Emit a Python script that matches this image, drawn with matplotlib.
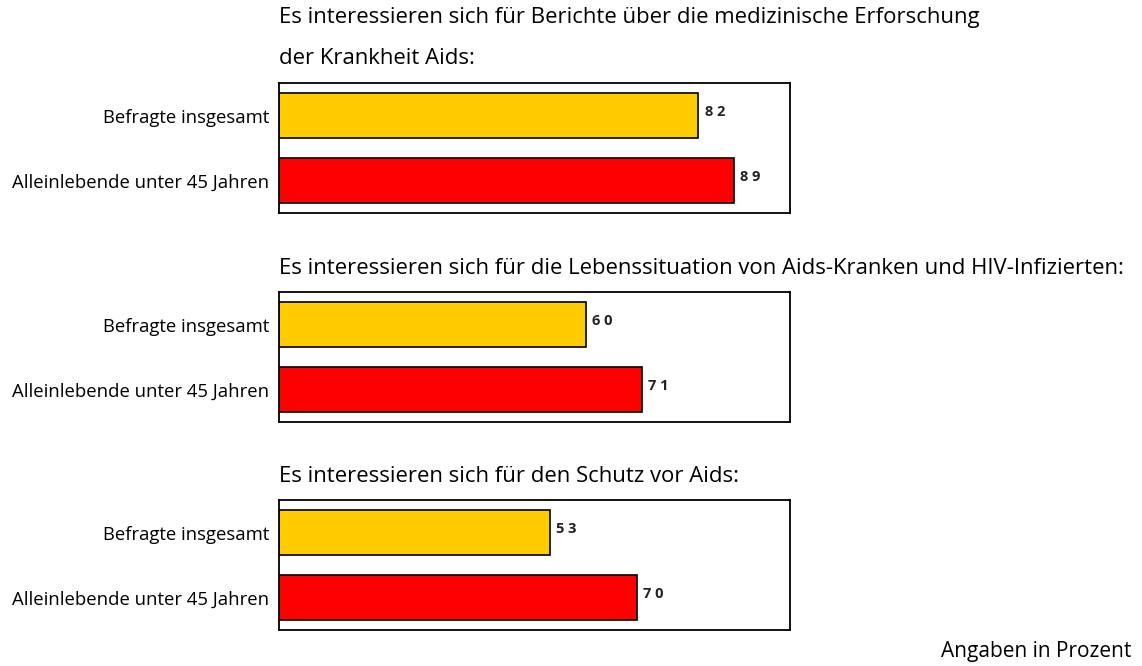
import matplotlib
matplotlib.use("Agg")
import matplotlib.pyplot as plt

plt.rcParams['font.family'] = ['Open Sans', 'DejaVu Sans']

groups = ["Befragte insgesamt", "Alleinlebende unter 45 Jahren"]
colors = ["#ffcc00", "#ff0000"]

titles = [
    ["Es interessieren sich für Berichte über die medizinische Erforschung",
     "der Krankheit Aids:"],
    ["Es interessieren sich für die Lebenssituation von Aids-Kranken und HIV-Infizierten:"],
    ["Es interessieren sich für den Schutz vor Aids:"],
]
medizin = [82, 89]
lebenssituation = [60, 71]
schutz = [53, 70]
panels = [medizin, lebenssituation, schutz]

W, H = 1142, 666
fig = plt.figure(figsize=(W / 100, H / 100), dpi=100)

# box tops in pixels, and title line centres in pixels
box_tops = [83, 292, 500]
title_y = [[18, 58], [268], [477]]
left, width, height = 279 / W, 511 / W, 130 / H

for vals, lines, top, ty in zip(panels, titles, box_tops, title_y):
    ax = fig.add_axes([left, 1 - (top + 130) / H, width, height])
    ax.barh(range(len(vals)), vals, height=0.68, color=colors,
            edgecolor="black", linewidth=1.2)
    ax.set_xlim(0, 100)
    ax.set_ylim(1.5, -0.5)
    ax.set_xticks([])
    ax.set_yticks(range(len(groups)))
    ax.set_yticklabels(groups, fontsize=13.3)
    ax.tick_params(axis="y", length=0, pad=7)
    for s in ax.spines.values():
        s.set_linewidth(1.3)
    for i, v in enumerate(vals):
        ax.text(v + 1.3, i - 0.06, " ".join(str(v)), va="center", ha="left",
                fontsize=10.5, fontweight="bold", color="#222222")
    for line, y in zip(lines, ty):
        fig.text(left, 1 - y / H, line, ha="left", va="center", fontsize=15.9)

fig.text(1131 / W, 1 - 651 / H, "Angaben in Prozent", ha="right",
         va="center", fontsize=15)

fig.savefig("out.png", dpi=100)
